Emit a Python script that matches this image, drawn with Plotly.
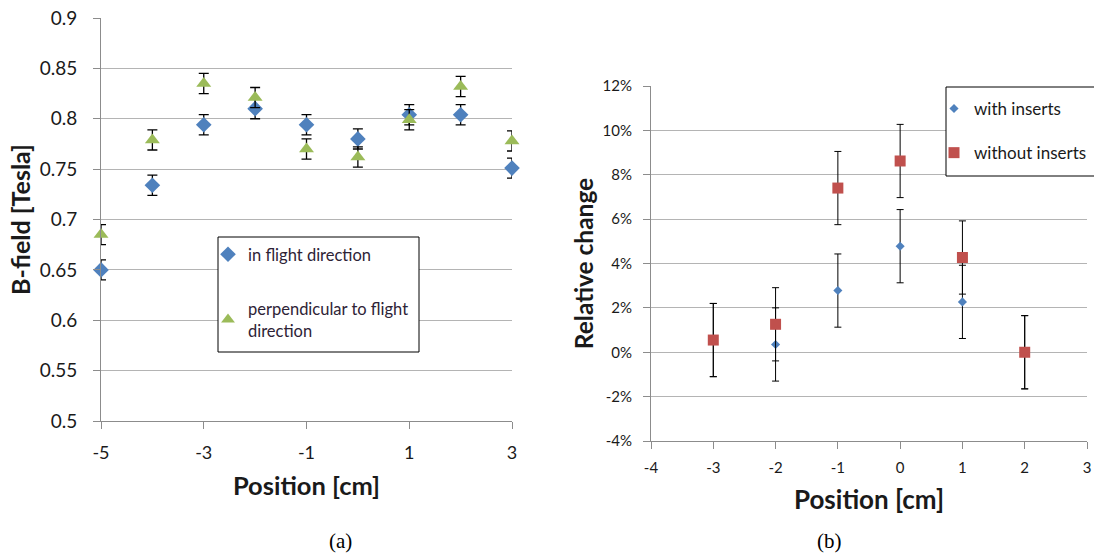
import plotly.graph_objects as go

# ---- data (a) ----
pos_a = [-5, -4, -3, -2, -1, 0, 1, 2, 3]
b_flight = [0.650, 0.734, 0.794, 0.810, 0.794, 0.780, 0.804, 0.804, 0.751]
b_perp = [0.685, 0.779, 0.835, 0.821, 0.770, 0.762, 0.799, 0.832, 0.778]
err_a = 0.01
yticks_a = [0.5, 0.55, 0.6, 0.65, 0.7, 0.75, 0.8, 0.85, 0.9]
yticktext_a = ["0.5", "0.55", "0.6", "0.65", "0.7", "0.75", "0.8", "0.85", "0.9"]
xticks_a = [-5, -3, -1, 1, 3]
xticktext_a = ["-5", "-3", "-1", "1", "3"]

# ---- data (b) ----
pos_b = [-3, -2, -1, 0, 1, 2]
with_ins = [0.55, 0.35, 2.78, 4.78, 2.27, 0.0]
without_ins = [0.55, 1.26, 7.40, 8.62, 4.27, 0.0]
err_b = 1.65
yticks_b = [-4, -2, 0, 2, 4, 6, 8, 10, 12]
yticktext_b = ["-4%", "-2%", "0%", "2%", "4%", "6%", "8%", "10%", "12%"]
xticks_b = [-4, -3, -2, -1, 0, 1, 2, 3]
xticktext_b = ["-4", "-3", "-2", "-1", "0", "1", "2", "3"]

W, H = 1094, 559
def px(x): return x / W
def py(y): return 1 - y / H

FONT = "Lato"
TXT = "#1a1a1a"
GRID = "#b4b4b4"
AXL = "#8c8c8c"

fig = go.Figure()

fig.add_trace(go.Scatter(
    x=pos_a, y=b_flight, mode="markers", name="in flight direction",
    marker=dict(symbol="diamond", size=12, color="#4F81BD"),
    error_y=dict(type="constant", value=err_a, color="black", thickness=1.3, width=5),
    xaxis="x", yaxis="y", legend="legend", legendgroup="a1", cliponaxis=False))
fig.add_trace(go.Scatter(
    x=pos_a, y=b_perp, mode="markers", name="perpendicular to flight<br>direction",
    marker=dict(symbol="triangle-up", size=13, color="#9BBB59"),
    error_y=dict(type="constant", value=err_a, color="black", thickness=1.3, width=5),
    xaxis="x", yaxis="y", legend="legend", legendgroup="a2", cliponaxis=False))

fig.add_trace(go.Scatter(
    x=pos_b, y=with_ins, mode="markers", name="with inserts",
    marker=dict(symbol="diamond", size=7, color="#4F81BD"),
    error_y=dict(type="constant", value=err_b, color="black", thickness=1, width=3.5),
    xaxis="x2", yaxis="y2", legend="legend2", legendgroup="b1", cliponaxis=False))
fig.add_trace(go.Scatter(
    x=pos_b, y=without_ins, mode="markers", name="without inserts",
    marker=dict(symbol="square", size=11, color="#C0504D"),
    error_y=dict(type="constant", value=err_b, color="black", thickness=1, width=3.5),
    xaxis="x2", yaxis="y2", legend="legend2", legendgroup="b2", cliponaxis=False))

common_ax = dict(showgrid=False, zeroline=False, showline=True, linecolor=AXL,
                 ticks="outside", ticklen=7, tickcolor=AXL, automargin=False)

fig.update_layout(
    width=W, height=H, margin=dict(l=0, r=0, t=0, b=0),
    paper_bgcolor="white", plot_bgcolor="white",
    font=dict(family=FONT, color=TXT),
    xaxis=dict(domain=[px(101), px(512)], range=[-5, 3], tickvals=xticks_a, ticktext=xticktext_a,
               tickfont=dict(size=18, family=FONT, color=TXT), ticklabelstandoff=8,
               title=dict(text="<b>Position [cm]</b>", font=dict(size=25.5, family=FONT, color=TXT), standoff=15),
               anchor="y", **common_ax),
    yaxis=dict(domain=[py(421), py(18)], range=[0.5, 0.9], tickvals=yticks_a, ticktext=yticktext_a,
               tickfont=dict(size=19, family=FONT, color=TXT), ticklabelstandoff=12,
               title=dict(text="<b>B-field [Tesla]</b>", font=dict(size=25, family=FONT, color=TXT), standoff=1),
               anchor="x", **{**common_ax, "showgrid": True, "gridcolor": GRID}),
    xaxis2=dict(domain=[px(651), px(1087)], range=[-4, 3], tickvals=xticks_b, ticktext=xticktext_b,
                tickfont=dict(size=15, family=FONT, color=TXT), ticklabelstandoff=6,
                title=dict(text="<b>Position [cm]</b>", font=dict(size=26, family=FONT, color=TXT), standoff=15),
                anchor="y2", **common_ax),
    yaxis2=dict(domain=[py(441), py(86)], range=[-4, 12], tickvals=yticks_b, ticktext=yticktext_b,
                tickfont=dict(size=15, family=FONT, color=TXT), ticklabelstandoff=8,
                title=dict(text="<b>Relative change</b>", font=dict(size=24.5, family=FONT, color=TXT), standoff=1),
                anchor="x2", **{**common_ax, "showgrid": True, "gridcolor": GRID}),
    legend=dict(x=px(208), y=py(237), xanchor="left", yanchor="top",
                bgcolor="rgba(0,0,0,0)", borderwidth=0,
                font=dict(size=16.5, family=FONT, color="#2e2336"),
                traceorder="grouped", tracegroupgap=30, itemsizing="constant"),
    legend2=dict(x=px(934), y=py(91), xanchor="left", yanchor="top",
                 bgcolor="rgba(0,0,0,0)", borderwidth=0,
                 font=dict(size=17, family=FONT, color=TXT),
                 traceorder="grouped", tracegroupgap=19),
    shapes=[
        dict(type="rect", xref="paper", yref="paper", x0=px(218), x1=px(419), y0=py(352), y1=py(237),
             line=dict(color="black", width=1), fillcolor="white", layer="above"),
        dict(type="rect", xref="paper", yref="paper", x0=px(946), x1=px(1100), y0=py(176), y1=py(87),
             line=dict(color="black", width=1), fillcolor="white", layer="above"),
    ],
    annotations=[
        dict(text="(a)", x=px(340), y=py(541), xref="paper", yref="paper", showarrow=False,
             xanchor="center", yanchor="middle",
             font=dict(size=21, family="Liberation Serif", color="black")),
        dict(text="(b)", x=px(829), y=py(541), xref="paper", yref="paper", showarrow=False,
             xanchor="center", yanchor="middle",
             font=dict(size=21, family="Liberation Serif", color="black")),
    ],
)

fig.write_html("out.html")
